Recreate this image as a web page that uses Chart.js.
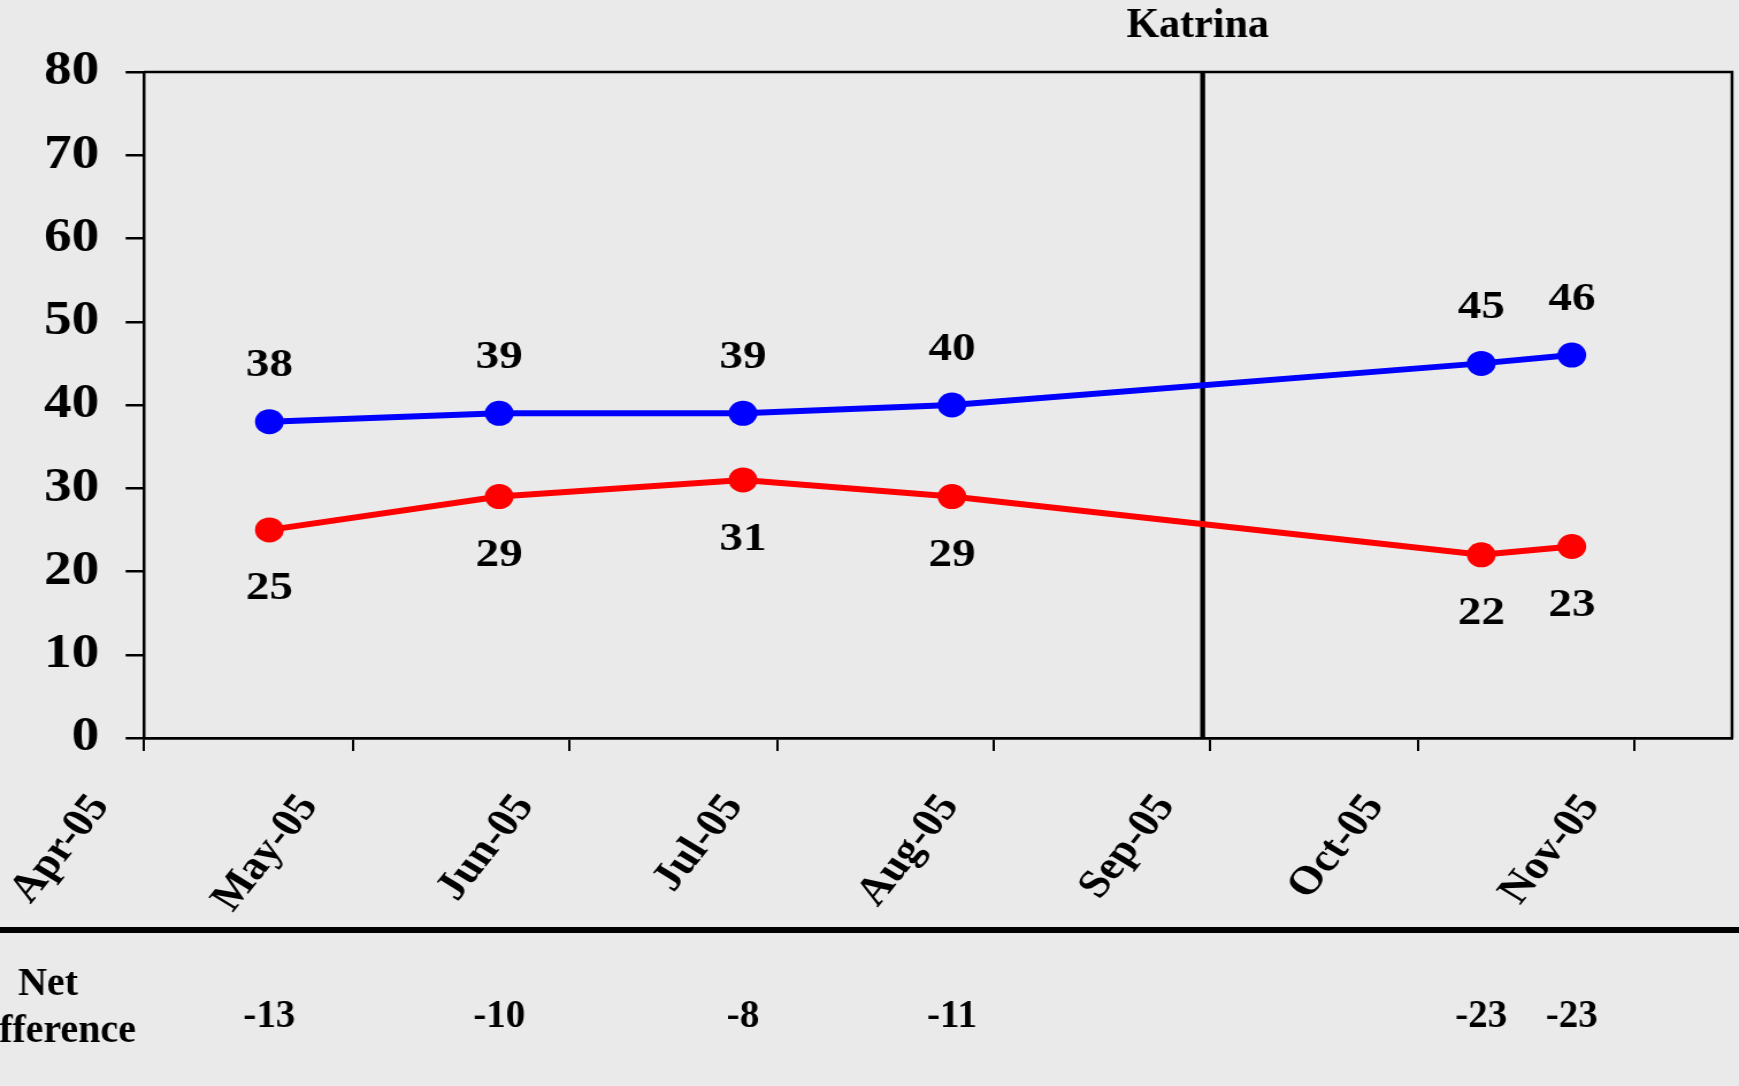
<!DOCTYPE html>
<html>
<head>
<meta charset="utf-8">
<script src="https://cdn.jsdelivr.net/npm/chart.js@4"></script>
<style>
  html, body { margin: 0; padding: 0; background: #eaeaea; overflow: hidden; }
  canvas { display: block; }
</style>
</head>
<body>
<canvas id="c" width="1512" height="1086" style="width:1739px;height:1086px"></canvas>
<script>
// ---- data ----
const surveyDates = ['2005-04-19', '2005-05-22', '2005-06-26', '2005-07-26', '2005-10-10', '2005-10-23'];
const blueSeries = [38, 39, 39, 40, 45, 46];
const redSeries  = [25, 29, 31, 29, 22, 23];
const netDifference = [-13, -10, -8, -11, -23, -23];
const tickDates  = ['2005-04-01', '2005-05-01', '2005-06-01', '2005-07-01', '2005-08-01', '2005-09-01', '2005-10-01', '2005-11-01'];
const tickLabels = ['Apr-05', 'May-05', 'Jun-05', 'Jul-05', 'Aug-05', 'Sep-05', 'Oct-05', 'Nov-05'];
const axisRange  = ['2005-04-01', '2005-11-15'];
const yTicks = [0, 10, 20, 30, 40, 50, 60, 70, 80];
const eventDate = '2005-08-31';
const eventLabel = 'Katrina';
const rowTitle = ['Net', 'Difference'];

// ---- helpers ----
const SX = 1739 / 1512;           // horizontal stretch of the original chart picture
const DAY = 86400000;
const origin = Date.UTC(2005, 3, 1);
function toDay(s) { const [y, m, d] = s.split('-').map(Number); return (Date.UTC(y, m - 1, d) - origin) / DAY; }
const surveyDays = surveyDates.map(toDay);
const tickDays = tickDates.map(toDay);
const FONT = '"Liberation Serif", "Times New Roman", serif';

const bgPlugin = {
  id: 'bg',
  beforeDraw(chart) {
    const ctx = chart.ctx;
    ctx.save();
    ctx.fillStyle = '#eaeaea';
    ctx.fillRect(0, 0, chart.width, chart.height);
    ctx.restore();
  }
};

const decorPlugin = {
  id: 'decor',
  beforeDatasetsDraw(chart) {
    const { ctx, chartArea: a, scales: { x } } = chart;
    ctx.save();
    ctx.strokeStyle = '#000';
    ctx.lineWidth = 2.5;
    ctx.beginPath();
    ctx.moveTo(a.left, a.top); ctx.lineTo(a.right, a.top); ctx.lineTo(a.right, a.bottom);
    ctx.stroke();
    const ex = x.getPixelForValue(toDay(eventDate));
    ctx.lineWidth = 4.3;
    ctx.beginPath();
    ctx.moveTo(ex, a.top); ctx.lineTo(ex, a.bottom);
    ctx.stroke();
    ctx.restore();
  },
  afterDatasetsDraw(chart) {
    const { ctx, scales: { x } } = chart;
    ctx.save();
    ctx.fillStyle = '#000';
    ctx.font = 'bold 41px ' + FONT;
    ctx.textAlign = 'center';
    ctx.textBaseline = 'middle';
    const m0 = chart.getDatasetMeta(0).data;
    const m1 = chart.getDatasetMeta(1).data;
    m0.forEach((p, i) => ctx.fillText(String(blueSeries[i]), p.x, p.y - 56));
    m1.forEach((p, i) => ctx.fillText(String(redSeries[i]), p.x, p.y + 59));
    // separator line
    ctx.fillRect(0, 927, chart.width, 6);
    // texts outside the chart picture are not stretched
    ctx.scale(1 / SX, 1);
    const ex = x.getPixelForValue(toDay(eventDate)) * SX;
    ctx.font = 'bold 42px ' + FONT;
    ctx.textBaseline = 'alphabetic';
    ctx.fillText(eventLabel, ex - 5, 37);
    ctx.font = 'bold 40px ' + FONT;
    ctx.fillText(rowTitle[0], 48, 995);
    ctx.textAlign = 'right';
    ctx.fillText(rowTitle[1], 136, 1042);
    ctx.textAlign = 'center';
    ctx.font = 'bold 39px ' + FONT;
    m0.forEach((p, i) => ctx.fillText(String(netDifference[i]), p.x * SX, 1027));
    ctx.restore();
  }
};

new Chart(document.getElementById('c'), {
  type: 'line',
  data: {
    datasets: [
      {
        data: surveyDays.map((d, i) => ({ x: d, y: blueSeries[i] })),
        borderColor: '#0000ff', backgroundColor: '#0000ff',
        borderWidth: 6, pointRadius: 12.5, pointHoverRadius: 12.5, pointBorderWidth: 0
      },
      {
        data: surveyDays.map((d, i) => ({ x: d, y: redSeries[i] })),
        borderColor: '#ff0000', backgroundColor: '#ff0000',
        borderWidth: 6, pointRadius: 12.5, pointHoverRadius: 12.5, pointBorderWidth: 0
      }
    ]
  },
  options: {
    responsive: false,
    animation: false,
    devicePixelRatio: 1,
    events: [],
    layout: { autoPadding: false, padding: { left: 0, top: 72, right: 7 / SX, bottom: 0 } },
    plugins: { legend: { display: false }, tooltip: { enabled: false } },
    scales: {
      x: {
        type: 'linear',
        min: toDay(axisRange[0]),
        max: toDay(axisRange[1]),
        afterBuildTicks(scale) { scale.ticks = tickDays.map(v => ({ value: v })); },
        afterFit(scale) { scale.height = 1086 - 738; scale.paddingLeft = 0; scale.paddingRight = 0; },
        grid: { drawOnChartArea: false, drawTicks: true, tickLength: 13, color: '#000', lineWidth: 2 },
        border: { display: true, color: '#000', width: 2.8 },
        ticks: {
          autoSkip: false, maxRotation: 55, minRotation: 55,
          padding: 35, labelOffset: -38,
          color: '#000', font: { family: FONT, weight: 'bold', size: 40 },
          callback(v) { const i = tickDays.indexOf(v); return i >= 0 ? tickLabels[i] : ''; }
        }
      },
      y: {
        min: 0, max: 80,
        afterBuildTicks(scale) { scale.ticks = yTicks.map(v => ({ value: v })); },
        afterFit(scale) { scale.width = 144 / SX; },
        grid: { drawOnChartArea: false, drawTicks: true, tickLength: 16, color: '#000', lineWidth: 2.5 },
        border: { display: true, color: '#000', width: 2.5 },
        ticks: {
          padding: 23, color: '#000',
          font: { family: FONT, weight: 'bold', size: 48 }
        }
      }
    }
  },
  plugins: [bgPlugin, decorPlugin]
});
</script>
</body>
</html>
